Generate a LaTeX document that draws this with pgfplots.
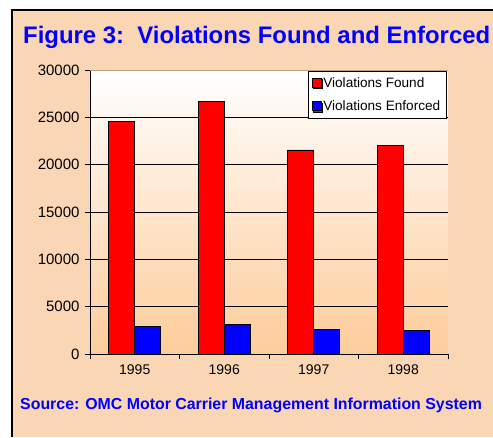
\documentclass[border=0pt]{standalone}
\usepackage{pgfplots}
\pgfplotsset{compat=1.18}
\usepackage{fontspec}
\setmainfont{Liberation Sans}
\usetikzlibrary{shadows}
\definecolor{peach}{RGB}{250,214,180}
\definecolor{peachdark}{RGB}{254,204,154}
\definecolor{tanline}{RGB}{190,160,130}

\begin{document}
\begin{tikzpicture}[x=1pt,y=1pt]
\useasboundingbox (0,0) rectangle (493,437);
\fill[white] (0,0) rectangle (493,437);
\fill[peach] (12,0) rectangle (493,427);
\draw[black, line width=2pt] (12,0) -- (12,427) -- (493,427);
\node[anchor=base west, inner sep=0, text=blue,
      font=\bfseries\fontsize{23.9}{28}\selectfont] at (23,393)
      {Figure 3:\ \ Violations Found and Enforced};
\node[anchor=base west, inner sep=0, text=blue,
      font=\bfseries\fontsize{15.9}{19}\selectfont] at (20,28)
      {Source: OMC Motor Carrier Management Information System};

\begin{axis}[
    at={(90pt,83pt)}, anchor=south west,
    scale only axis,
    width=358pt, height=284pt,
    ybar=0pt, bar width=26pt,
    xmin=-0.5, xmax=3.5,
    ymin=0, ymax=30000,
    xtick={0,1,2,3},
    xticklabels={1995,1996,1997,1998},
    minor xtick={-0.5,0.5,1.5,2.5,3.5},
    ytick={0,5000,10000,15000,20000,25000,30000},
    scaled y ticks=false,
    axis lines*=left,
    axis line style={black, line width=0.8pt},
    tick align=outside,
    major tick length=5pt,
    minor tick length=5pt,
    major x tick style={draw=none},
    minor x tick style={black, line width=0.8pt},
    major y tick style={black, line width=0.8pt},
    ymajorgrids,
    grid style={black, line width=0.6pt},
    axis background/.style={shade, top color=white, bottom color=peachdark},
    yticklabel style={font=\fontsize{15}{18}\selectfont, xshift=-2pt},
    xticklabel style={font=\fontsize{14}{17}\selectfont, yshift=-2pt},
    legend style={at={(0.996,0.997)}, anchor=north east,
        draw=black, fill=white, line width=0.6pt,
        font=\fontsize{13.6}{16}\selectfont,
        drop shadow={shadow xshift=1.2pt, shadow yshift=-1.2pt, fill=black!70, opacity=1},
        row sep=8pt, inner xsep=4pt, inner ysep=4pt},
    legend cell align=left,
    legend image code/.code={
        \draw[#1, draw=black, line width=0.5pt] (0pt,-4.5pt) rectangle (9pt,4.5pt);
        \coordinate (legendpad) at (12pt,0pt);},
    /pgf/number format/1000 sep={},
    /pgf/number format/assume math mode=true,
]
\addplot[fill=red, draw=black, line width=0.6pt] coordinates {(0,24600) (1,26700) (2,21550) (3,22050)};
\addplot[fill=blue, draw=black, line width=0.6pt] coordinates {(0,2900) (1,3100) (2,2600) (3,2500)};
\legend{Violations Found, Violations Enforced}
\draw[tanline, line width=1pt] (rel axis cs:0,1) -- (rel axis cs:1,1);
\end{axis}
\end{tikzpicture}
\end{document}
